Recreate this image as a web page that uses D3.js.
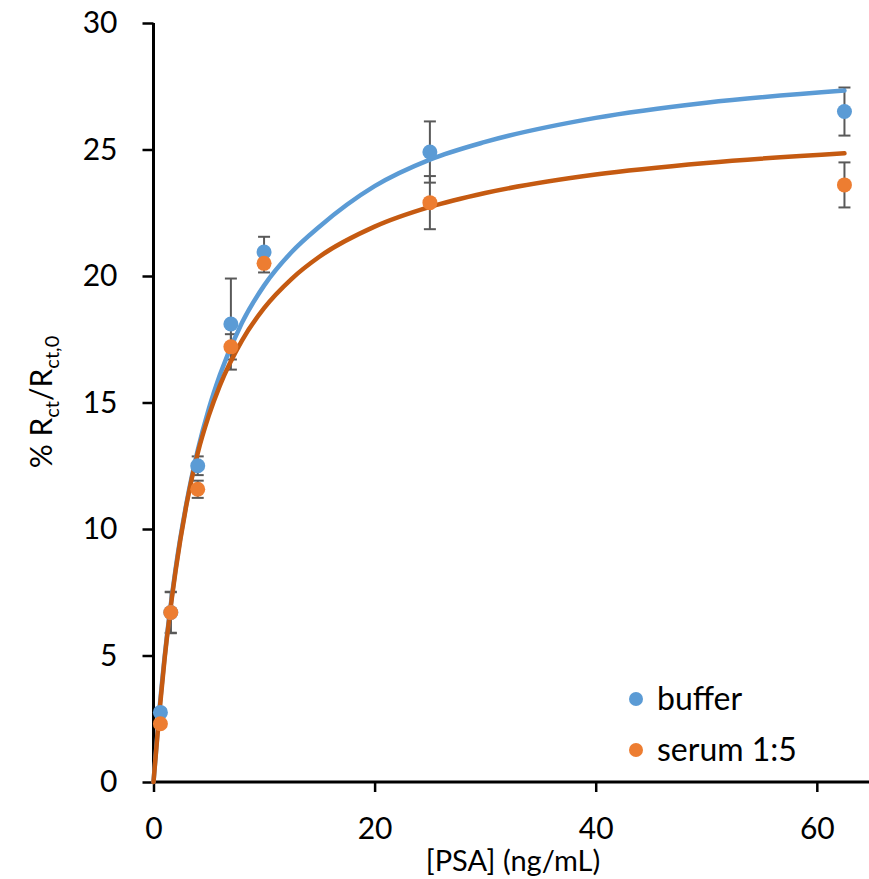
<!DOCTYPE html>
<html><head><meta charset="utf-8">
<script src="https://cdn.jsdelivr.net/npm/d3@7"></script>
<style>body{margin:0;background:#fff}svg{display:block}text{font-family:Lato,"Open Sans",sans-serif;fill:#000}</style>
</head><body><svg id="c" width="869" height="879"></svg>
<script>
// Data
const conc = [0.625, 1.5625, 4, 7, 10, 25, 62.5];
const bufferMean = [2.75, 6.7, 12.5, 18.1, 20.95, 24.9, 26.5];
const bufferErr  = [0.12, 0.8, 0.37, 1.8, 0.6, 1.21, 0.95];
const serumMean  = [2.3, 6.7, 11.57, 17.2, 20.5, 22.9, 23.6];
const serumErr   = [0.1, 0.82, 0.34, 0.5, 0.36, 1.05, 0.89];
// fitted trend curves
const fitX      = [0, 0.5, 1, 2, 3, 4, 5, 6, 8, 10, 12.5, 15, 20, 25, 30, 40, 50, 62.5];
const bufferFit = [0, 2.68, 4.92, 8.43, 11.06, 13.11, 14.75, 16.09, 18.15, 19.62, 20.95, 21.95, 23.55, 24.6, 25.3, 26.25, 26.85, 27.33];
const serumFit  = [0, 2.6, 4.85, 8.35, 11.0, 13.0, 14.48, 15.67, 17.45, 18.73, 19.89, 20.76, 21.95, 22.73, 23.28, 24.01, 24.47, 24.85];
const xTicks = [0, 20, 40, 60];
const yTicks = [0, 5, 10, 15, 20, 25, 30];
const seriesNames = ["buffer", "serum 1:5"];

const markerColors = ["#5B9BD5", "#ED7D31"];
const lineColors = ["#5B9BD5", "#C55A11"];

const svg = d3.select("#c");
const mL = 153.5, mR = 869, mT = 23, mB = 782;
const x = d3.scaleLinear().domain([0, 64.72]).range([mL, mR]);
const y = d3.scaleLinear().domain([0, 30]).range([mB, mT]);

// axes
const gy = svg.append("g").attr("transform", `translate(${mL},0)`)
  .call(d3.axisLeft(y).tickValues(yTicks).tickSize(11).tickSizeOuter(0).tickPadding(25));
const gx = svg.append("g").attr("transform", `translate(0,${mB})`)
  .call(d3.axisBottom(x).tickValues(xTicks).tickSize(10).tickSizeOuter(0).tickPadding(26));
[gx, gy].forEach(g => {
  g.select(".domain").attr("stroke", "#000").attr("stroke-width", 3);
  g.selectAll(".tick line").attr("stroke", "#000").attr("stroke-width", 2.5);
  g.selectAll(".tick text").attr("font-size", 30).attr("fill", "#000").style("font-family", "Lato, sans-serif");
});
gx.select(".domain").attr("d", `M${mL - 1.5},0H${mR}`);
gy.select(".domain").attr("d", `M0,${mT}V${mB + 1.5}`);

// axis titles
svg.append("text").attr("x", 513).attr("y", 871).attr("text-anchor", "middle")
  .attr("font-size", 29).text("[PSA] (ng/mL)");
const yt = svg.append("text").attr("transform", "translate(52,402) rotate(-90)")
  .attr("text-anchor", "middle").attr("font-size", 30);
yt.append("tspan").text("% R");
yt.append("tspan").attr("font-size", 20).attr("dy", 7).text("ct");
yt.append("tspan").attr("dy", -7).text("/R");
yt.append("tspan").attr("font-size", 20).attr("dy", 7).text("ct,0");

const series = [
  {mean: bufferMean, err: bufferErr, fit: bufferFit},
  {mean: serumMean, err: serumErr, fit: serumFit}
];

// error bars
series.forEach((s, i) => {
  const g = svg.append("g").attr("stroke", "#595959").attr("stroke-width", 2);
  conc.forEach((c, j) => {
    const cx = x(c), y1 = y(s.mean[j] + s.err[j]), y2 = y(s.mean[j] - s.err[j]);
    g.append("line").attr("x1", cx).attr("x2", cx).attr("y1", y1).attr("y2", y2);
    g.append("line").attr("x1", cx - 6).attr("x2", cx + 6).attr("y1", y1).attr("y2", y1);
    g.append("line").attr("x1", cx - 6).attr("x2", cx + 6).attr("y1", y2).attr("y2", y2);
  });
});

// fit curves
const line = d3.line().x(d => x(d[0])).y(d => y(d[1])).curve(d3.curveMonotoneX);
series.forEach((s, i) => {
  svg.append("path").datum(fitX.map((v, j) => [v, s.fit[j]]))
    .attr("d", line).attr("fill", "none").attr("stroke", lineColors[i])
    .attr("stroke-width", 4.5).attr("stroke-linecap", "round");
});

// markers
series.forEach((s, i) => {
  svg.append("g").selectAll("circle").data(conc).join("circle")
    .attr("cx", c => x(c)).attr("cy", (c, j) => y(s.mean[j]))
    .attr("r", 7.5).attr("fill", markerColors[i]);
});

// legend
seriesNames.forEach((n, i) => {
  const ly = 699 + i * 51;
  svg.append("circle").attr("cx", 636).attr("cy", ly).attr("r", 7).attr("fill", markerColors[i]);
  svg.append("text").attr("x", 657).attr("y", ly + 11).attr("font-size", 32).text(n);
});
</script></body></html>
